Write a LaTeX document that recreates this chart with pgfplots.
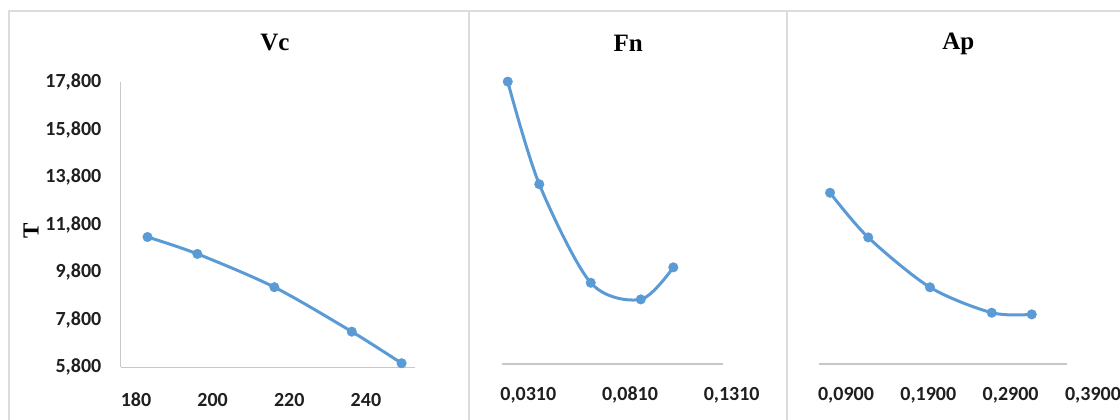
\documentclass[border=0pt]{standalone}
\usepackage{fontspec}
\setmainfont{Liberation Serif}
\newfontfamily\calibri{Carlito}
\usepackage{pgfplots}
\pgfplotsset{compat=1.18}
\definecolor{xlblue}{HTML}{5B9BD5}
\definecolor{framegray}{HTML}{DCDCDC}
\definecolor{axgray}{HTML}{C8C8C8}
\pgfplotsset{
  panel/.style={
    scale only axis, anchor=south west, clip=false,
    ymin=5.8, ymax=17.8,
    major tick length=0pt,
    /pgf/number format/assume math mode=true,
    ticklabel style={font=\calibri\bfseries\fontsize{10}{12}\selectfont, text=black!88},
    xticklabel style={anchor=center, inner sep=0pt},
  },
  series/.style={color=xlblue, line width=1.5pt, smooth, tension=0.5,
    mark=*, mark size=2.4pt, mark options={fill=xlblue, draw=xlblue, line width=0.2pt}},
}
\begin{document}
\begin{tikzpicture}[x=0.5pt,y=0.5pt]
\useasboundingbox (0,0) rectangle (1120,419);
\draw[framegray, line width=1.2pt] (9,-5) -- (9,408) -- (1125,408);
\draw[framegray, line width=1.2pt] (469,-5) -- (469,408);
\draw[framegray, line width=1.2pt] (787,-5) -- (787,408);
\node[font=\bfseries\fontsize{12.5}{14}\selectfont] at (275,376) {Vc};
\node[font=\bfseries\fontsize{12.5}{14}\selectfont] at (628.3,376) {Fn};
\node[font=\bfseries\fontsize{12.5}{14}\selectfont] at (958.3,375) {Ap};
\node[rotate=90, font=\bfseries\fontsize{11.5}{13}\selectfont] at (31,188) {T};

% Vc
\begin{axis}[panel, at={(60.35pt,25.85pt)}, width=147.15pt, height=142.65pt,
  xmin=176, xmax=252.8, xtick={180,200,220,240},
  ytick={5.8,7.8,9.8,11.8,13.8,15.8,17.8},
  axis x line*=bottom, axis y line*=left,
  axis line style={-, axgray, line width=0.7pt},
  yticklabel style={anchor=east, inner sep=0pt, xshift=-9.5pt,
    /pgf/number format/.cd, fixed, fixed zerofill, precision=3, use comma},
  xticklabel style={yshift=-16.35pt},
]
\addplot[series] coordinates {(183.0,11.28) (196.0,10.57) (216.1,9.17) (236.3,7.30) (249.3,5.97)};
\end{axis}

% Fn
\begin{axis}[panel, at={(251.15pt,27.5pt)}, width=115.2pt, height=142.5pt,
  xmin=0.01822, xmax=0.1315, xtick={0.031,0.081,0.131}, ytick=\empty,
  axis line style={draw=none},
  xticklabel style={yshift=-15.5pt,
    /pgf/number format/.cd, fixed, fixed zerofill, precision=4, use comma},
]
\draw[axgray, line width=0.7pt] (axis cs:0.01822,5.8) -- (axis cs:0.12687,5.8);
\addplot[series] coordinates {(0.0209,17.69) (0.0364,13.37) (0.0617,9.22) (0.0863,8.52) (0.1023,9.87)};
\end{axis}

% Ap
\begin{axis}[panel, at={(409.65pt,27.5pt)}, width=137.05pt, height=142.5pt,
  xmin=0.05757, xmax=0.3905, xtick={0.09,0.19,0.29,0.39}, ytick=\empty,
  axis line style={draw=none},
  xticklabel style={yshift=-15.5pt,
    /pgf/number format/.cd, fixed, fixed zerofill, precision=4, use comma},
]
\draw[axgray, line width=0.7pt] (axis cs:0.05757,5.8) -- (axis cs:0.3588,5.8);
\addplot[series] coordinates {(0.0706,13.01) (0.117,11.13) (0.192,9.03) (0.267,7.96) (0.3156,7.89)};
\end{axis}
\end{tikzpicture}
\end{document}
